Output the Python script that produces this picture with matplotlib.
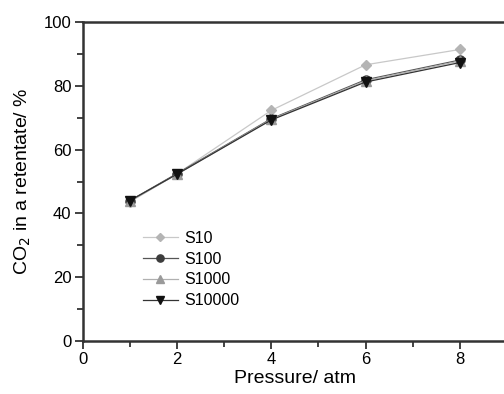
import matplotlib
matplotlib.use("Agg")
import matplotlib.pyplot as plt
from matplotlib.ticker import MultipleLocator

plt.rcParams['font.family'] = ['Liberation Sans', 'DejaVu Sans']

pressure = [1, 2, 4, 6, 8]
s10 = [43.6, 52.4, 72.3, 86.6, 91.4]
s100 = [44.0, 52.5, 69.7, 81.9, 88.1]
s1000 = [43.8, 52.3, 69.5, 81.6, 87.8]
s10000 = [44.0, 52.3, 69.3, 81.2, 87.3]

series = [
    ("S10", s10, "D", "#b4b4b4", "#c8c8c8"),
    ("S100", s100, "o", "#3c3c3c", "#555555"),
    ("S1000", s1000, "^", "#9a9a9a", "#b0b0b0"),
    ("S10000", s10000, "v", "#111111", "#333333"),
]

fig = plt.figure(figsize=(5.04, 3.94), dpi=100)
ax = fig.add_axes([0.164, 0.1345, 0.842, 0.8095])

for name, vals, mk, mc, lc in series:
    ax.plot(pressure, vals, color=lc, lw=0.9, marker=mk, ms=6.5 if mk != "D" else 5.5,
            markerfacecolor=mc, markeredgecolor=mc, label=name)

ax.set_xlim(0, 9)
ax.set_ylim(0, 100)
ax.xaxis.set_major_locator(MultipleLocator(2))
ax.xaxis.set_minor_locator(MultipleLocator(1))
ax.yaxis.set_major_locator(MultipleLocator(20))
ax.yaxis.set_minor_locator(MultipleLocator(10))

for side in ("left", "bottom", "top", "right"):
    ax.spines[side].set_linewidth(1.8)
    ax.spines[side].set_color("#333333")
ax.tick_params(which="major", direction="out", length=6, width=1.3, color="#333333",
               labelsize=12, pad=2, top=False, right=False)
ax.tick_params(which="minor", direction="out", length=4, width=1.3, color="#333333",
               top=False, right=False)

ax.set_xlabel("Pressure/ atm", fontsize=14, labelpad=2)
ax.set_ylabel("CO$_2$ in a retentate/ %", fontsize=14, labelpad=8)

ax.legend(loc="upper left", bbox_to_anchor=(0.142, 0.345), frameon=False, fontsize=11.5,
          handlelength=2.2, handletextpad=0.4, labelspacing=0.36, borderaxespad=0,
          borderpad=0, markerscale=0.8)

fig.savefig("out.png", dpi=100)
